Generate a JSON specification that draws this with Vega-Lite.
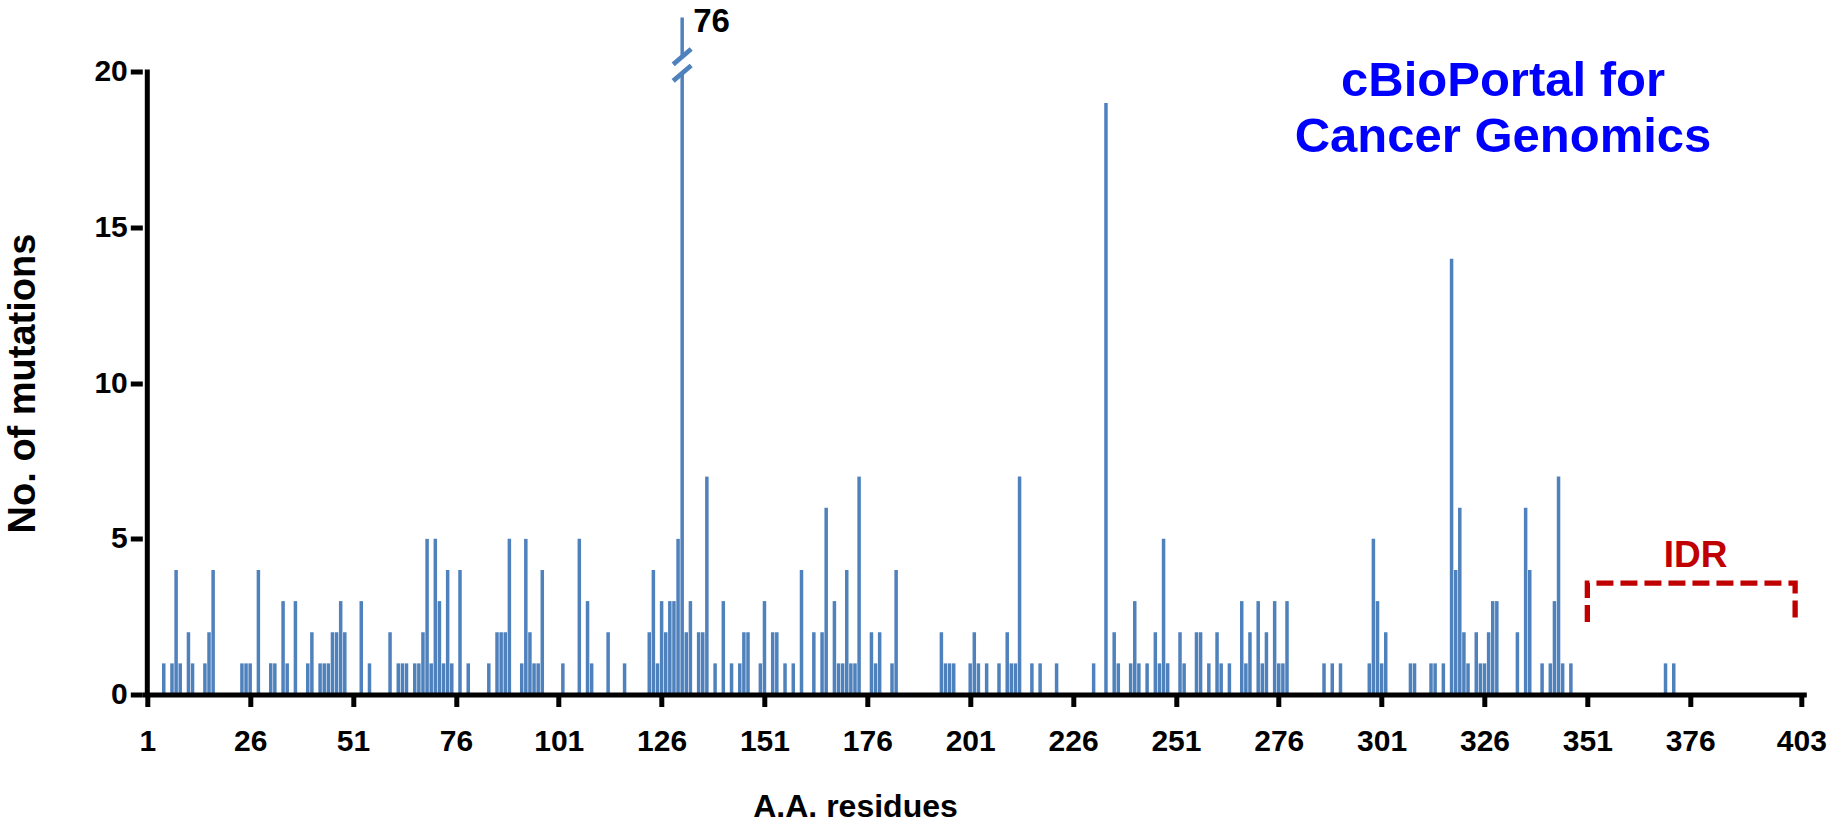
{
  "$schema": "https://vega.github.io/schema/vega-lite/v6.json",
  "width": 1664,
  "height": 677,
  "autosize": {"type": "none"},
  "padding": {"left": 142.3, "top": 17.5, "right": 26.7, "bottom": 134.5},
  "background": "white",
  "config": {"view": {"stroke": null}, "font": "Liberation Sans"},
  "datasets": {
    "mut": [
      {"residue": 5, "count": 1}, {"residue": 7, "count": 1}, {"residue": 8, "count": 4}, {"residue": 9, "count": 1},
      {"residue": 11, "count": 2}, {"residue": 12, "count": 1}, {"residue": 15, "count": 1}, {"residue": 16, "count": 2},
      {"residue": 17, "count": 4}, {"residue": 24, "count": 1}, {"residue": 25, "count": 1}, {"residue": 26, "count": 1},
      {"residue": 28, "count": 4}, {"residue": 31, "count": 1}, {"residue": 32, "count": 1}, {"residue": 34, "count": 3},
      {"residue": 35, "count": 1}, {"residue": 37, "count": 3}, {"residue": 40, "count": 1}, {"residue": 41, "count": 2},
      {"residue": 43, "count": 1}, {"residue": 44, "count": 1}, {"residue": 45, "count": 1}, {"residue": 46, "count": 2},
      {"residue": 47, "count": 2}, {"residue": 48, "count": 3}, {"residue": 49, "count": 2}, {"residue": 53, "count": 3},
      {"residue": 55, "count": 1}, {"residue": 60, "count": 2}, {"residue": 62, "count": 1}, {"residue": 63, "count": 1},
      {"residue": 64, "count": 1}, {"residue": 66, "count": 1}, {"residue": 67, "count": 1}, {"residue": 68, "count": 2},
      {"residue": 69, "count": 5}, {"residue": 70, "count": 1}, {"residue": 71, "count": 5}, {"residue": 72, "count": 3},
      {"residue": 73, "count": 1}, {"residue": 74, "count": 4}, {"residue": 75, "count": 1}, {"residue": 77, "count": 4},
      {"residue": 79, "count": 1}, {"residue": 84, "count": 1}, {"residue": 86, "count": 2}, {"residue": 87, "count": 2},
      {"residue": 88, "count": 2}, {"residue": 89, "count": 5}, {"residue": 92, "count": 1}, {"residue": 93, "count": 5},
      {"residue": 94, "count": 2}, {"residue": 95, "count": 1}, {"residue": 96, "count": 1}, {"residue": 97, "count": 4},
      {"residue": 102, "count": 1}, {"residue": 106, "count": 5}, {"residue": 108, "count": 3}, {"residue": 109, "count": 1},
      {"residue": 113, "count": 2}, {"residue": 117, "count": 1}, {"residue": 123, "count": 2}, {"residue": 124, "count": 4},
      {"residue": 125, "count": 1}, {"residue": 126, "count": 3}, {"residue": 127, "count": 2}, {"residue": 128, "count": 3},
      {"residue": 129, "count": 3}, {"residue": 130, "count": 5}, {"residue": 131, "count": 76}, {"residue": 132, "count": 2},
      {"residue": 133, "count": 3}, {"residue": 135, "count": 2}, {"residue": 136, "count": 2}, {"residue": 137, "count": 7},
      {"residue": 139, "count": 1}, {"residue": 141, "count": 3}, {"residue": 143, "count": 1}, {"residue": 145, "count": 1},
      {"residue": 146, "count": 2}, {"residue": 147, "count": 2}, {"residue": 150, "count": 1}, {"residue": 151, "count": 3},
      {"residue": 153, "count": 2}, {"residue": 154, "count": 2}, {"residue": 156, "count": 1}, {"residue": 158, "count": 1},
      {"residue": 160, "count": 4}, {"residue": 163, "count": 2}, {"residue": 165, "count": 2}, {"residue": 166, "count": 6},
      {"residue": 168, "count": 3}, {"residue": 169, "count": 1}, {"residue": 170, "count": 1}, {"residue": 171, "count": 4},
      {"residue": 172, "count": 1}, {"residue": 173, "count": 1}, {"residue": 174, "count": 7}, {"residue": 177, "count": 2},
      {"residue": 178, "count": 1}, {"residue": 179, "count": 2}, {"residue": 182, "count": 1}, {"residue": 183, "count": 4},
      {"residue": 194, "count": 2}, {"residue": 195, "count": 1}, {"residue": 196, "count": 1}, {"residue": 197, "count": 1},
      {"residue": 201, "count": 1}, {"residue": 202, "count": 2}, {"residue": 203, "count": 1}, {"residue": 205, "count": 1},
      {"residue": 208, "count": 1}, {"residue": 210, "count": 2}, {"residue": 211, "count": 1}, {"residue": 212, "count": 1},
      {"residue": 213, "count": 7}, {"residue": 216, "count": 1}, {"residue": 218, "count": 1}, {"residue": 222, "count": 1},
      {"residue": 231, "count": 1}, {"residue": 234, "count": 19}, {"residue": 236, "count": 2}, {"residue": 237, "count": 1},
      {"residue": 240, "count": 1}, {"residue": 241, "count": 3}, {"residue": 242, "count": 1}, {"residue": 244, "count": 1},
      {"residue": 246, "count": 2}, {"residue": 247, "count": 1}, {"residue": 248, "count": 5}, {"residue": 249, "count": 1},
      {"residue": 252, "count": 2}, {"residue": 253, "count": 1}, {"residue": 256, "count": 2}, {"residue": 257, "count": 2},
      {"residue": 259, "count": 1}, {"residue": 261, "count": 2}, {"residue": 262, "count": 1}, {"residue": 264, "count": 1},
      {"residue": 267, "count": 3}, {"residue": 268, "count": 1}, {"residue": 269, "count": 2}, {"residue": 271, "count": 3},
      {"residue": 272, "count": 1}, {"residue": 273, "count": 2}, {"residue": 275, "count": 3}, {"residue": 276, "count": 1},
      {"residue": 277, "count": 1}, {"residue": 278, "count": 3}, {"residue": 287, "count": 1}, {"residue": 289, "count": 1},
      {"residue": 291, "count": 1}, {"residue": 298, "count": 1}, {"residue": 299, "count": 5}, {"residue": 300, "count": 3},
      {"residue": 301, "count": 1}, {"residue": 302, "count": 2}, {"residue": 308, "count": 1}, {"residue": 309, "count": 1},
      {"residue": 313, "count": 1}, {"residue": 314, "count": 1}, {"residue": 316, "count": 1}, {"residue": 318, "count": 14},
      {"residue": 319, "count": 4}, {"residue": 320, "count": 6}, {"residue": 321, "count": 2}, {"residue": 322, "count": 1},
      {"residue": 324, "count": 2}, {"residue": 325, "count": 1}, {"residue": 326, "count": 1}, {"residue": 327, "count": 2},
      {"residue": 328, "count": 3}, {"residue": 329, "count": 3}, {"residue": 334, "count": 2}, {"residue": 336, "count": 6},
      {"residue": 337, "count": 4}, {"residue": 340, "count": 1}, {"residue": 342, "count": 1}, {"residue": 343, "count": 3},
      {"residue": 344, "count": 7}, {"residue": 345, "count": 1}, {"residue": 347, "count": 1}, {"residue": 370, "count": 1},
      {"residue": 372, "count": 1}
    ],
    "idr": [
      {"residue": 351, "level": 2.33, "step": 1},
      {"residue": 351, "level": 3.58, "step": 2},
      {"residue": 401.5, "level": 3.58, "step": 3},
      {"residue": 401.5, "level": 2.33, "step": 4}
    ]
  },
  "data": {"name": "mut"},
  "layer": [
    {
      "mark": {"type": "bar", "size": 3.5, "color": "#4F81BD"},
      "encoding": {
        "x": {
          "field": "residue", "type": "quantitative",
          "scale": {"domain": [1, 403], "nice": false, "zero": false},
          "axis": {
            "values": [1, 26, 51, 76, 101, 126, 151, 176, 201, 226, 251, 276, 301, 326, 351, 376, 403],
            "title": "A.A. residues", "titleFont": "Liberation Sans", "titleFontSize": 32, "titleFontWeight": "bold",
            "titleColor": "black", "titleX": 712.7, "titleY": 112, "titleBaseline": "middle", "titleAlign": "center",
            "labelFont": "Liberation Sans", "labelFontSize": 30, "labelFontWeight": "bold", "labelColor": "black",
            "labelPadding": 20, "labelFlush": false, "labelOverlap": false,
            "domainColor": "black", "domainWidth": 5, "tickColor": "black", "tickWidth": 5, "tickSize": 12,
            "grid": false, "zindex": 1
          }
        },
        "y": {
          "field": "count", "type": "quantitative",
          "scale": {"domain": [0, 21.75], "nice": false, "clamp": true},
          "axis": {
            "values": [0, 5, 10, 15, 20],
            "title": "No. of mutations", "titleFont": "Liberation Sans", "titleFontSize": 38, "titleFontWeight": "bold",
            "titleColor": "black", "titleX": -119.3, "titleY": 365.5, "titleAngle": -90, "titleBaseline": "middle", "titleAlign": "center",
            "labelFont": "Liberation Sans", "labelFontSize": 30, "labelFontWeight": "bold", "labelColor": "black",
            "labelPadding": 3, "domain": false, "tickColor": "black", "tickWidth": 5, "tickSize": 12,
            "grid": false, "zindex": 1
          }
        }
      }
    },
    {
      "data": {"values": [{}]},
      "mark": {"type": "rule", "strokeWidth": 5, "color": "black", "strokeCap": "square"},
      "encoding": {"x": {"datum": 1}, "y": {"datum": 0}, "y2": {"datum": 20}}
    },
    {
      "data": {"values": [{}]},
      "mark": {"type": "point", "shape": "M -1 0.85 L 1 -0.85", "size": 196, "filled": false, "color": "white", "strokeWidth": 10, "opacity": 1},
      "encoding": {"x": {"datum": 131}, "y": {"datum": 20.23}}
    },
    {
      "data": {"values": [{"pos": 20.49}, {"pos": 19.96}]},
      "mark": {"type": "point", "shape": "M -1 0.85 L 1 -0.85", "size": 324, "filled": false, "color": "#4F81BD", "strokeWidth": 4.7, "opacity": 1},
      "encoding": {"x": {"datum": 131}, "y": {"field": "pos", "type": "quantitative"}}
    },
    {
      "transform": [{"filter": "datum.count > 20"}],
      "mark": {"type": "text", "align": "left", "baseline": "middle", "dx": 11, "fontSize": 33, "fontWeight": "bold", "font": "Liberation Sans", "color": "black"},
      "encoding": {"x": {"field": "residue", "type": "quantitative"}, "y": {"datum": 21.6}, "text": {"field": "count"}}
    },
    {
      "data": {"values": [{"line": "cBioPortal for", "pos": 19.23}, {"line": "Cancer Genomics", "pos": 17.43}]},
      "mark": {"type": "text", "align": "center", "baseline": "alphabetic", "fontSize": 49, "fontWeight": "bold", "font": "Liberation Sans", "color": "#0000FF"},
      "encoding": {"x": {"datum": 330.5}, "y": {"field": "pos", "type": "quantitative"}, "text": {"field": "line"}}
    },
    {
      "data": {"name": "idr"},
      "mark": {"type": "line", "color": "#C00000", "strokeWidth": 5.3, "strokeDash": [17, 7], "strokeCap": "butt"},
      "encoding": {
        "x": {"field": "residue", "type": "quantitative"},
        "y": {"field": "level", "type": "quantitative"},
        "order": {"field": "step"}
      }
    },
    {
      "data": {"values": [{"label": "IDR"}]},
      "mark": {"type": "text", "align": "center", "baseline": "alphabetic", "fontSize": 37, "fontWeight": "bold", "font": "Liberation Sans", "color": "#C00000"},
      "encoding": {"x": {"datum": 377.3}, "y": {"datum": 4.1}, "text": {"field": "label"}}
    }
  ]
}
